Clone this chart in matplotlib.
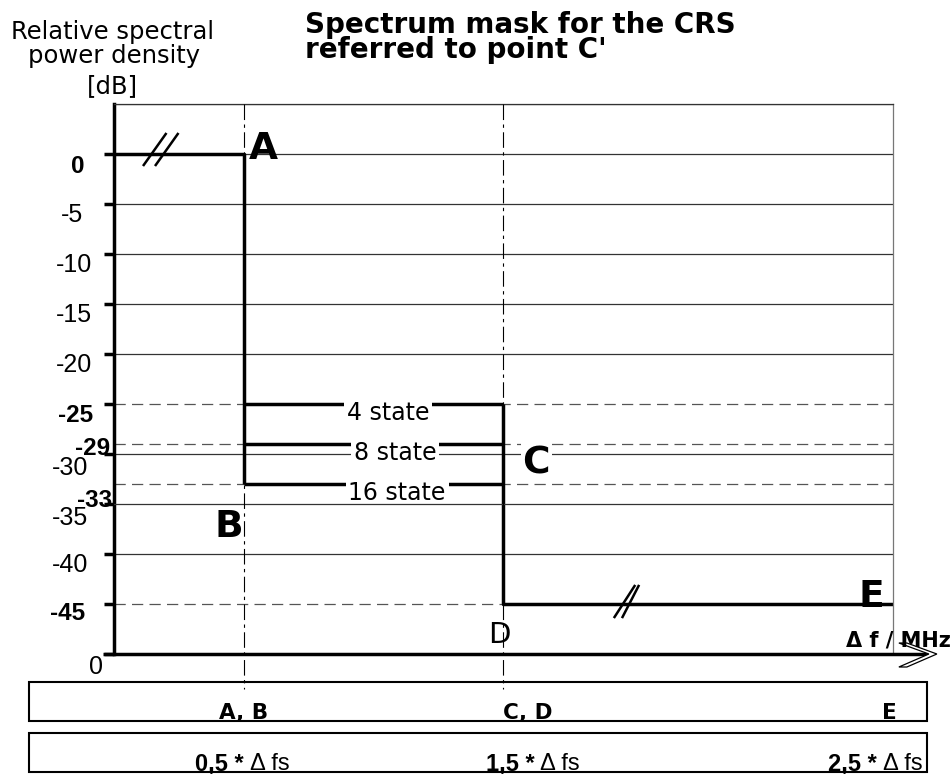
import matplotlib
matplotlib.use('Agg')
import matplotlib.pyplot as plt
import matplotlib.transforms as mtransforms
from matplotlib.patches import Polygon, Rectangle
from matplotlib.lines import Line2D
from matplotlib import font_manager as fm

# ---------------- data ----------------
freq_pos = [0.5, 1.5, 3.0]            # plotted x positions of A/B, C/D, E (axis broken before E)
box_labels = ['A, B', 'C, D', 'E']
freq_labels = ['0,5 *', '1,5 *', '2,5 *']
freq_unit = 'Δ fs'
passband_db = 0
state_db = [-25, -29, -33]
state_names = ['4 state', '8 state', '16 state']
floor_db = -45
ytick_vals = [0, -5, -10, -15, -20, -25, -30, -35, -40, -45, -50]
ylabel_vals = [0, -5, -10, -15, -20, -25, -29, -30, -33, -35, -40, -45]
bold_vals = [0, -25, -29, -33, -45]
solid_grid = [5, 0, -5, -10, -15, -20, -30, -35, -40]
dashed_grid = [-25, -29, -33, -45]
break_pos = [(0.18, 0), (1.97, -45)]

W, H = 953, 774
PT = 0.72  # points per pixel at 100 dpi


def has_font(name):
    try:
        fm.findfont(fm.FontProperties(family=name), fallback_to_default=False)
        return True
    except Exception:
        return False


NARROW = 'Liberation Sans Narrow' if has_font('Liberation Sans Narrow') else None
ARIAL = ['Liberation Sans', 'DejaVu Sans']

plt.rcParams['font.family'] = ['DejaVu Sans']

fig = plt.figure(figsize=(W / 100, H / 100), dpi=100)
ax = fig.add_axes([114 / W, 1 - 654 / H, (893 - 114) / W, (654 - 104) / H])
ax.set_xlim(0, 3.0)
ax.set_ylim(-50, 5)

LW = 2.5
# spines
ax.spines['bottom'].set_visible(False)
ax.spines['left'].set_linewidth(LW)
ax.spines['left'].set_color('black')
ax.spines['top'].set_linewidth(0.9)
ax.spines['top'].set_color('#333333')
ax.spines['right'].set_linewidth(0.9)
ax.spines['right'].set_color('#777777')

ax.set_xticks([])
ax.set_yticks(ytick_vals)
ax.tick_params(axis='y', direction='out', length=10 * PT, width=LW,
               color='black', labelleft=False)

# grid lines
for v in solid_grid:
    z = 3.5 if v == -35 else 1
    ax.axhline(v, color='#333333', lw=0.9, zorder=z)
for v in dashed_grid:
    ax.axhline(v, color='#555555', lw=0.9, ls=(0, (9, 5)), zorder=1)

# vertical dash-dot reference lines
for x in freq_pos[:2]:
    ax.plot([x, x], [5, -53.5], color='black', lw=0.8,
            ls=(0, (14, 4, 3, 4)), clip_on=False, zorder=5)

# spectrum mask
ax.plot([0, freq_pos[0], freq_pos[0]], [passband_db, passband_db, min(state_db)],
        color='black', lw=LW, zorder=2, solid_capstyle='butt')
for lvl in state_db:
    ax.plot([freq_pos[0], freq_pos[1]], [lvl, lvl], color='black', lw=LW,
            zorder=2, solid_capstyle='butt')
ax.plot([freq_pos[1], freq_pos[1], freq_pos[2]], [max(state_db), floor_db, floor_db],
        color='black', lw=LW, zorder=2, solid_capstyle='butt')

# x axis with arrow
tip_x = 3.169
ax.plot([-0.042, tip_x - 0.03], [-50, -50], color='black', lw=LW,
        clip_on=False, zorder=6, solid_capstyle='butt')
chev = [(0, 0), (-30, 11), (-38, 11), (-8, 0), (-38, -13), (-30, -13)]
tr = mtransforms.Affine2D() + mtransforms.ScaledTranslation(tip_x, -50, ax.transData)
ax.add_patch(Polygon(chev, closed=True, fc='white', ec='black', lw=0.9,
                     transform=tr, clip_on=False, zorder=7))

# break marks
break_shapes = [[((-17, -11), (5, 20)), ((-5, -11), (17, 20))],
                [((-11, -13), (9, 18)), ((-3, -13), (13, 18))]]
for (bx, by), segs in zip(break_pos, break_shapes):
    trb = mtransforms.Affine2D() + mtransforms.ScaledTranslation(bx, by, ax.transData)
    for (p0, p1) in segs:
        ax.add_line(Line2D([p0[0], p1[0]], [p0[1], p1[1]], color='black', lw=1.8,
                           transform=trb, clip_on=False, zorder=6))


def lab(s, xy, dx, dy, **kw):
    """dx, dy in pixels (dy positive = downward)"""
    return ax.annotate(s, xy=xy, xytext=(dx * PT, -dy * PT), textcoords='offset points',
                       annotation_clip=False, **kw)


# y tick labels
special = {0: (-29, 19), -5: (-31, 18), -25: (-21, 18), -29: (-4, 11),
           -30: (-26, 21), -33: (-2, 23), -35: (-26, 21), -40: (-26, 18),
           -45: (-29, 16)}
for v in ylabel_vals:
    dx, dy = special.get(v, (-22, 18))
    if v in bold_vals:
        lab(str(v), (0, v), dx, dy, ha='right', va='baseline', fontsize=17.5,
            fontweight='bold', family=ARIAL, zorder=6)
    else:
        lab(str(v), (0, v), dx, dy, ha='right', va='baseline', fontsize=18,
            family=ARIAL, zorder=6)
lab('0', (0, -50), -11, 20, ha='right', va='baseline', fontsize=18, family=ARIAL)

# state labels
state_x = [1.055, 1.082, 1.09]
for sx, lvl, name in zip(state_x, state_db, state_names):
    lab(name, (sx, lvl), 0, 16, ha='center', va='baseline', fontsize=17, zorder=3,
        bbox=dict(boxstyle='square,pad=0.12', fc='white', ec='none'))

# point labels
big = dict(fontsize=27, fontweight='bold', va='baseline')
lab('A', (freq_pos[0], passband_db), 5, 5, ha='left', zorder=4, **big)
lab('B', (freq_pos[0], min(state_db)), -1, 53, ha='right', zorder=4,
    bbox=dict(boxstyle='square,pad=0.05', fc='white', ec='none'), **big)
lab('C', (freq_pos[1], state_db[1]), 19, 29, ha='left', zorder=4,
    bbox=dict(boxstyle='square,pad=0.05', fc='white', ec='none'), **big)
lab('D', (freq_pos[1], floor_db), -4, 39, ha='center', va='baseline', fontsize=21, zorder=4)
lab('E', (freq_pos[2], floor_db), -9, 3, ha='right', zorder=4, **big)

# axis annotation
fig.text(846 / W, 1 - 647 / H, 'Δ f / MHz', fontsize=15, fontweight='bold',
         ha='left', va='baseline', zorder=8)

# title
fig.text(305 / W, 1 - 33 / H, 'Spectrum mask for the CRS', fontsize=20,
         fontweight='bold', ha='left', va='baseline')
fig.text(305 / W, 1 - 58 / H, "referred to point C'", fontsize=20,
         fontweight='bold', ha='left', va='baseline')

# y label
fig.text(113 / W, 1 - 39 / H, 'Relative spectral', fontsize=17.5, ha='center', va='baseline')
fig.text(114 / W, 1 - 63 / H, 'power density', fontsize=17.5, ha='center', va='baseline')
fig.text(112 / W, 1 - 93 / H, '[dB]', fontsize=17.5, ha='center', va='baseline')

# boxes below
for top, bot in [(682, 721), (733, 772)]:
    fig.add_artist(Rectangle((29 / W, 1 - bot / H), (927 - 29) / W, (bot - top) / H,
                             fill=False, lw=1.5, ec='black', transform=fig.transFigure))

blend = mtransforms.blended_transform_factory(ax.transData, fig.transFigure)
box1_align = [('center', 0), ('left', 0), ('right', 4)]
for x, s, (ha, dx) in zip(freq_pos, box_labels, box1_align):
    ax.annotate(s, xy=(x, 1 - 719 / H), xycoords=blend, xytext=(dx * PT, 0),
                textcoords='offset points', ha=ha, va='baseline', fontsize=15.5,
                fontweight='bold', annotation_clip=False)

if NARROW:
    fam2, fs2 = [NARROW, 'DejaVu Sans'], 21
else:
    fam2, fs2 = ['Liberation Sans', 'DejaVu Sans'], 17
split_dx = [0, 31, -16]
for x, s, dx in zip(freq_pos, freq_labels, split_dx):
    ax.annotate(s, xy=(x, 1 - 770 / H), xycoords=blend, xytext=(dx * PT, 0),
                textcoords='offset points', ha='right', va='baseline', fontsize=fs2,
                fontweight='bold', family=fam2, annotation_clip=False)
    ax.annotate(freq_unit, xy=(x, 1 - 770 / H), xycoords=blend,
                xytext=((dx + 6) * PT, 0), textcoords='offset points', ha='left',
                va='baseline', fontsize=fs2, family=fam2, annotation_clip=False)

fig.savefig('out.png', dpi=100)
